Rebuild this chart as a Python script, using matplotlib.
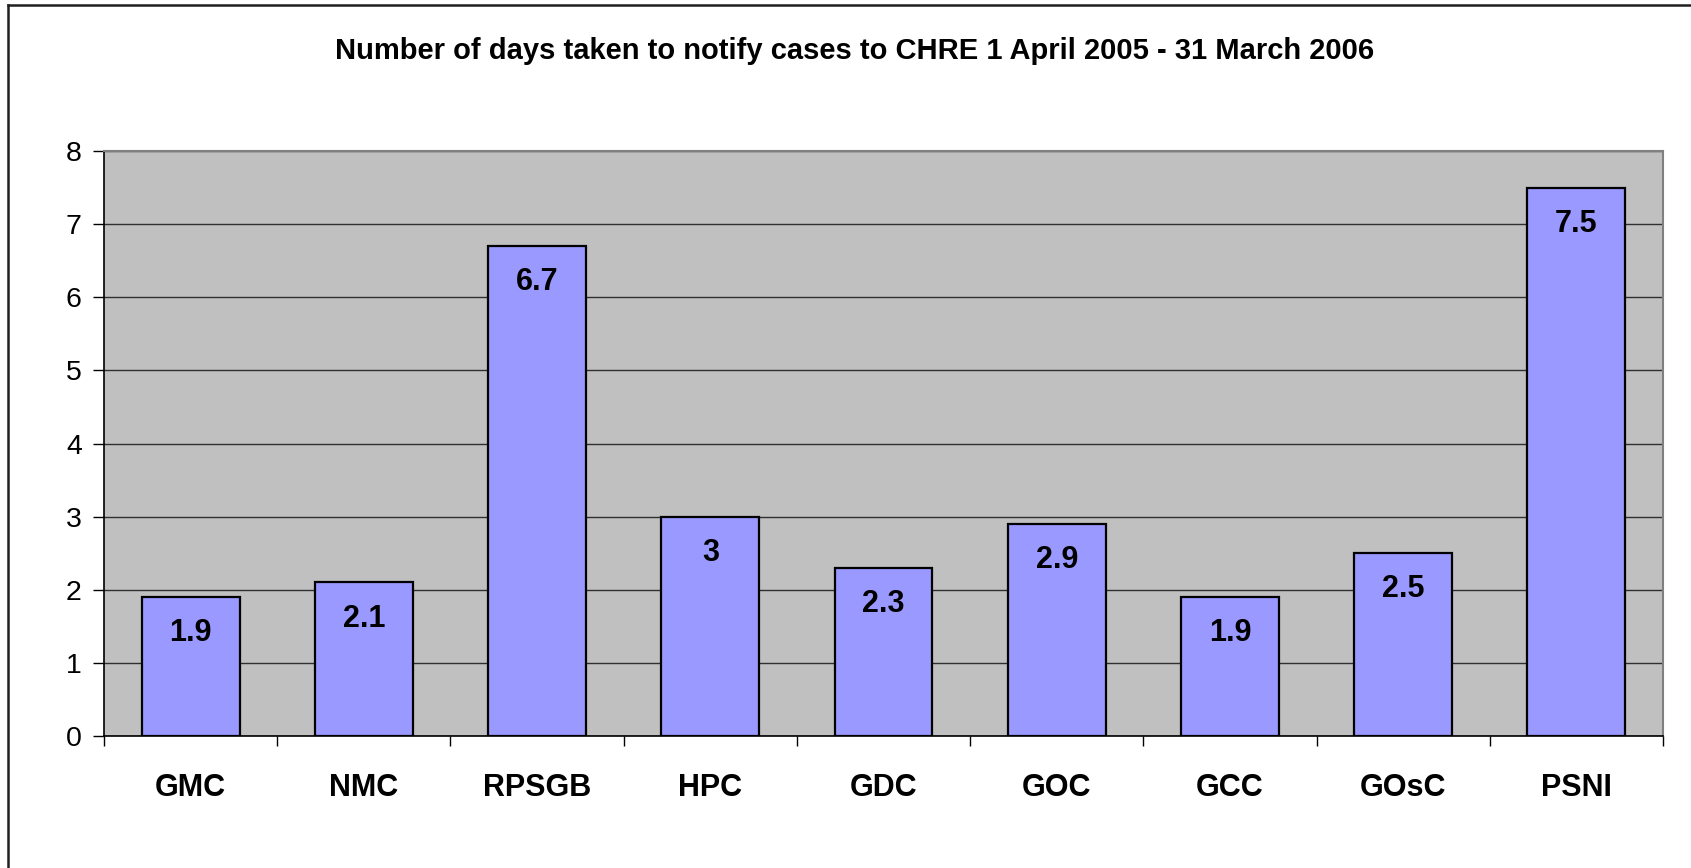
import matplotlib
matplotlib.use("Agg")
import matplotlib.pyplot as plt
from matplotlib.lines import Line2D
import numpy as np

categories = ["GMC", "NMC", "RPSGB", "HPC", "GDC", "GOC", "GCC", "GOsC", "PSNI"]
values = [1.9, 2.1, 6.7, 3, 2.3, 2.9, 1.9, 2.5, 7.5]
value_labels = ["1.9", "2.1", "6.7", "3", "2.3", "2.9", "1.9", "2.5", "7.5"]
yticks = [0, 1, 2, 3, 4, 5, 6, 7, 8]
title = "Number of days taken to notify cases to CHRE 1 April 2005 - 31 March 2006"

plt.rcParams['font.family'] = ['Liberation Sans', 'DejaVu Sans']

W, H = 1691, 868
fig = plt.figure(figsize=(W / 100, H / 100), dpi=100)
ax = fig.add_axes([104 / W, 1 - 736 / H, (1663 - 104) / W, (736 - 151) / H])
ax.set_facecolor("#C0C0C0")

x = np.arange(len(categories))
ax.bar(x, values, width=0.565, color="#9999FF", edgecolor="black", linewidth=1.6, zorder=3)

ax.set_xlim(-0.5, len(categories) - 0.5)
ax.set_ylim(0, 8)
ax.set_yticks(yticks)
ax.set_yticklabels([str(t) for t in yticks], fontsize=20.5)
ax.yaxis.grid(True, color="#303030", linewidth=1.0, zorder=1)
ax.set_axisbelow(True)

ax.set_xticks(x)
ax.set_xticklabels(categories, fontsize=22, fontweight="bold")
ax.set_xticks(np.arange(-0.5, len(categories)), minor=True)
ax.tick_params(axis="x", which="major", length=0, pad=27)
ax.tick_params(axis="x", which="minor", length=7.5, width=1.0, direction="out", color="black")
ax.tick_params(axis="y", which="major", length=8, width=1.0, direction="out", pad=8, color="black")

for s in ["top", "right"]:
    ax.spines[s].set_color("#808080")
    ax.spines[s].set_linewidth(1.5)
for s in ["left", "bottom"]:
    ax.spines[s].set_color("black")
    ax.spines[s].set_linewidth(1.2)

for xi, v, lab in zip(x, values, value_labels):
    ax.annotate(lab, xy=(xi, v), xytext=(0, -26), textcoords="offset points",
                ha="center", va="center", fontsize=22, fontweight="bold", zorder=4)

fig.text(855 / W, 1 - 51 / H, title, ha="center", va="center", fontsize=21, fontweight="bold")

# chart frame lines (top and left)
fig.add_artist(Line2D([8 / W, 1], [1 - 5 / H, 1 - 5 / H], transform=fig.transFigure, color="#202020", linewidth=1.8))
fig.add_artist(Line2D([8 / W, 8 / W], [0, 1 - 5 / H], transform=fig.transFigure, color="#202020", linewidth=1.8))

fig.savefig("out.png", dpi=100, facecolor="white")
